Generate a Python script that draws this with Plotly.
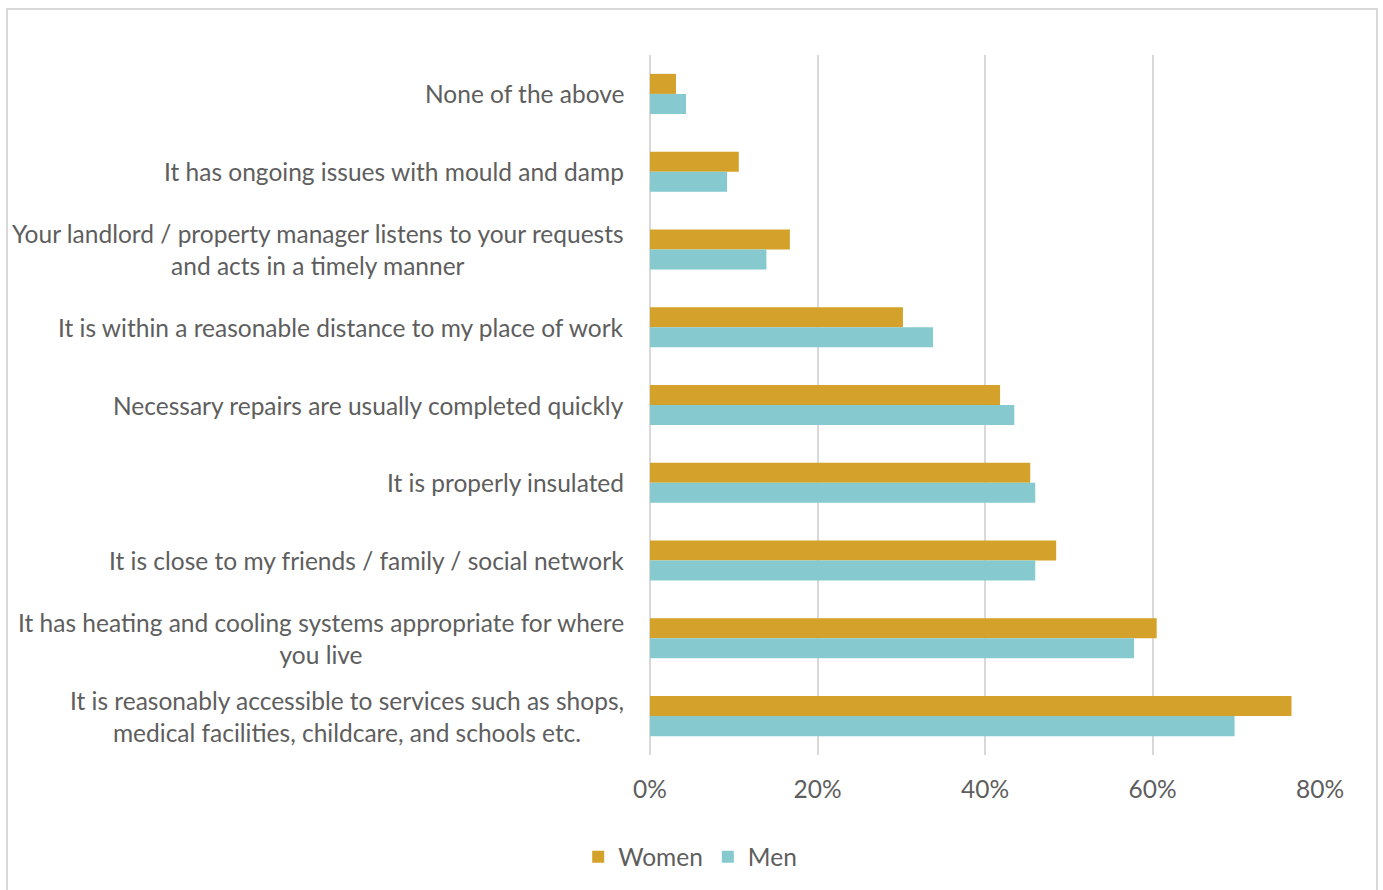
import plotly.graph_objects as go

categories = [
    "None of the above",
    "It has ongoing issues with mould and damp",
    "Your landlord / property manager listens to your requests<br>and acts in a timely manner",
    "It is within a reasonable distance to my place of work",
    "Necessary repairs are usually completed quickly",
    "It is properly insulated",
    "It is close to my friends / family / social network",
    "It has heating and cooling systems appropriate for where<br>you live",
    "It is reasonably accessible to services such as shops,<br>medical facilities, childcare, and schools etc.",
]
women = [3.1, 10.6, 16.7, 30.2, 41.8, 45.4, 48.5, 60.5, 76.6]
men = [4.3, 9.2, 13.9, 33.8, 43.5, 46.0, 46.0, 57.8, 69.8]
x_ticks = [0, 20, 40, 60, 80]
x_tick_labels = ["0%", "20%", "40%", "60%", "80%"]

FONT = "Lato"
TXT = "#5E5E5E"
FS = 24.5

fig = go.Figure()
fig.add_trace(go.Bar(y=categories, x=women, name="Women", orientation="h",
                     marker=dict(color="#D4A22A", line=dict(width=0))))
fig.add_trace(go.Bar(y=categories, x=men, name="Men", orientation="h",
                     marker=dict(color="#86CACF", line=dict(width=0))))

for c in categories:
    fig.add_annotation(x=0, xref="paper", y=c, yref="y", xanchor="right",
                       xshift=-24, text=c, showarrow=False, align="center",
                       font=dict(family=FONT, size=FS, color=TXT))

# outer frame
fig.add_shape(type="rect", xref="paper", yref="paper",
              x0=(7 - 650) / 670, x1=(1377 - 650) / 670,
              y0=(756 - 900) / 701, y1=(756 - 9) / 701,
              line=dict(color="#D9D9D9", width=2), fillcolor="rgba(0,0,0,0)",
              layer="below")

fig.update_layout(
    width=1383, height=890,
    margin=dict(l=650, r=63, t=55, b=134),
    paper_bgcolor="white", plot_bgcolor="white",
    barmode="group", bargap=0.485, bargroupgap=0,
    font=dict(family=FONT, size=FS, color=TXT),
    legend=dict(orientation="h", x=0.06, xanchor="center", y=-0.144,
                yanchor="middle", font=dict(family=FONT, size=FS, color=TXT),
                itemsizing="constant"),
    xaxis=dict(range=[0, 80], tickvals=x_ticks, ticktext=x_tick_labels,
               showgrid=True, gridcolor="#D9D9D9", gridwidth=2,
               zeroline=True, zerolinecolor="#D9D9D9", zerolinewidth=2,
               showline=False, ticks="", ticklabelstandoff=17,
               tickfont=dict(family=FONT, size=FS, color=TXT)),
    yaxis=dict(autorange="reversed", showticklabels=False, showgrid=False,
               zeroline=False, showline=False, ticks=""),
)

fig.write_html("out.html")
